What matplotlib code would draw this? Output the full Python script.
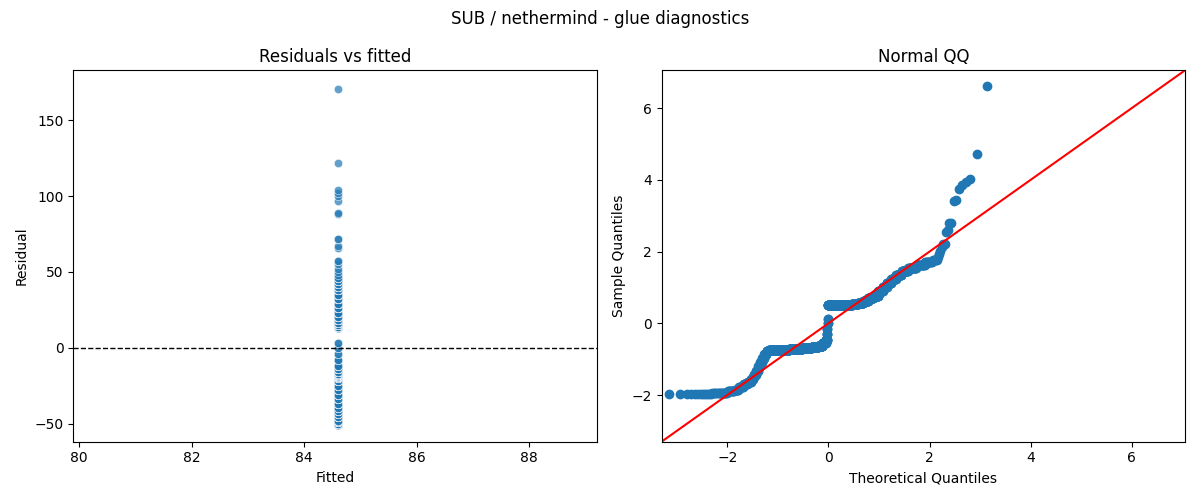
import numpy as np
import matplotlib
matplotlib.use("Agg")
import matplotlib.pyplot as plt
import seaborn as sns
from statistics import NormalDist

fitted_value = 84.6

# residual levels (raw units) and how many observations sit at each
res_levels = [-51, -50, -49, -48, -46, -44, -42, -40, -37, -34, -31, -28, -25, -22, -20,
              -19, -18.5, -18, -17, -16, -14, -12,
              -8, -4, 0, 3,
              13, 13.5, 14, 15, 16, 18, 20,
              23, 26, 29, 32, 35,
              38, 40, 42, 44, 46,
              48, 50, 52, 55, 57, 66, 67, 72, 88, 89, 97, 100, 102, 104, 122, 171]
res_counts = [12, 15, 10, 8, 10, 10, 10, 7, 8, 8, 8, 8, 8, 10, 10,
              120, 100, 80, 60, 40, 30, 12,
              3, 2, 2, 2,
              120, 100, 50, 40, 35, 35, 30,
              25, 20, 20, 20, 20,
              20, 20, 15, 10, 5,
              1, 1, 1, 1, 2, 1, 1, 2, 1, 1, 1, 1, 1, 1, 1, 1]

residuals = np.repeat(res_levels, res_counts).astype(float)
fitted = np.full(len(residuals), fitted_value)

fig, (ax1, ax2) = plt.subplots(1, 2, figsize=(12, 5))
fig.suptitle("SUB / nethermind - glue diagnostics")

sns.scatterplot(x=fitted, y=residuals, ax=ax1, alpha=0.7)
ax1.axhline(0, color="black", linestyle="--", linewidth=1)
ax1.set_xlim(79.9, 89.2)
ax1.set_ylim(-62, 183)
ax1.set_title("Residuals vs fitted")
ax1.set_xlabel("Fitted")
ax1.set_ylabel("Residual")

# normal QQ of standardized residuals
sample = np.sort((residuals - residuals.mean()) / residuals.std(ddof=1))
n = len(sample)
nd = NormalDist()
theo = np.array([nd.inv_cdf((i + 1) / (n + 1)) for i in range(n)])
ax2.plot(theo, sample, "o", color="#1f77b4", markersize=6)
lims = (-3.3, 7.05)
ax2.plot(lims, lims, color="red")
ax2.set_xlim(lims)
ax2.set_ylim(lims)
ax2.set_title("Normal QQ")
ax2.set_xlabel("Theoretical Quantiles")
ax2.set_ylabel("Sample Quantiles")

plt.tight_layout()
plt.savefig("out.png", dpi=100)
